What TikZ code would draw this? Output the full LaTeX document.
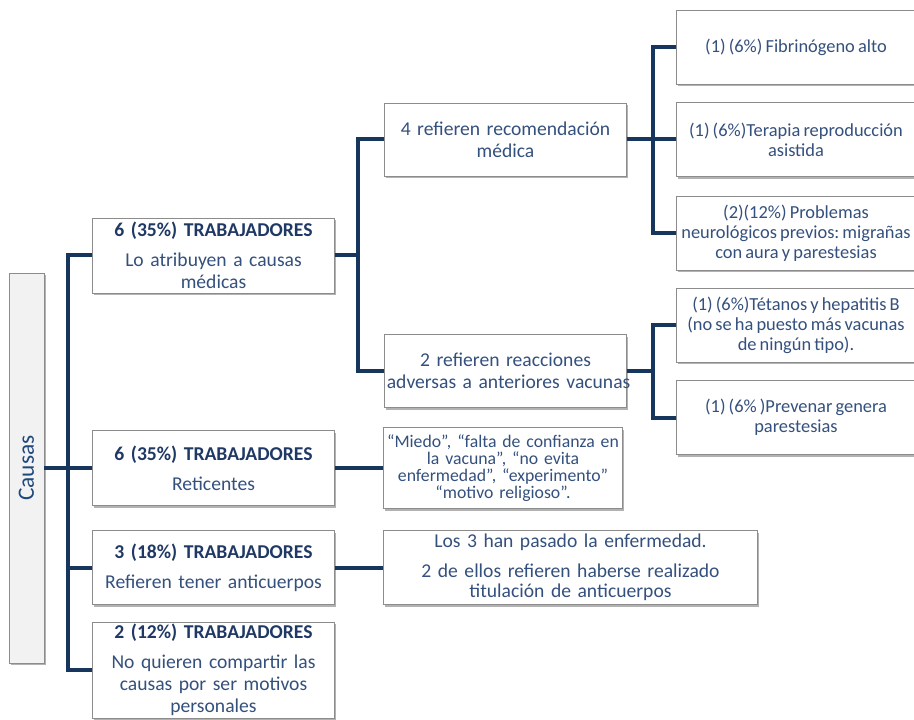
\documentclass[tikz,border=0pt]{standalone}
\usepackage{fontspec}
\setmainfont{Carlito}
\usetikzlibrary{shadows}
\definecolor{linkblue}{RGB}{23,54,93}
\definecolor{boxline}{RGB}{140,140,140}
\definecolor{titleblue}{RGB}{31,56,100}
\definecolor{bodyblue}{RGB}{52,80,125}
\definecolor{causasblue}{RGB}{31,73,125}
\definecolor{causasfill}{RGB}{242,242,242}
\newcommand{\grupo}[1]{\textbf{\color{titleblue}#1}}
\frenchspacing
\begin{document}
\begin{tikzpicture}[x=0.75pt,y=-0.75pt,
  box/.style={draw=boxline,fill=white,line width=0.6pt,align=center,inner xsep=2pt,inner ysep=1pt,
    text=bodyblue,font=\fontsize{14.7}{16.5}\selectfont,
    drop shadow={shadow xshift=1.2pt,shadow yshift=-1.8pt,fill=black,opacity=.3}},
  sidebox/.style={box,text width=177pt,inner xsep=1.5pt,minimum height=55.5pt,
    font=\fontsize{13.8}{15}\selectfont,execute at begin node={\spaceskip=.17em\xspaceskip=.17em\relax}},
  link/.style={draw=linkblue,line width=3pt}]
\useasboundingbox (0,0) rectangle (914,720);
\node[box,fill=causasfill,minimum width=26.25pt,minimum height=292.5pt,inner sep=0pt] (causas) at (26.5,468)
  {\rotatebox{90}{\fontsize{17.5}{18}\selectfont\color{causasblue}Causas}};
\node[box,text width=178pt,minimum height=56.25pt] (atrib) at (213.5,255.5)
  {\grupo{6 (35\%) TRABAJADORES}\\[6pt] Lo atribuyen a causas\\ médicas};
\node[box,text width=178pt,minimum height=56.25pt] (retic) at (213.5,468)
  {\grupo{6 (35\%) TRABAJADORES}\\[6pt] Reticentes};
\node[box,text width=178pt,minimum height=55.5pt] (antic) at (213.5,567.5)
  {\grupo{3 (18\%) TRABAJADORES}\\[6pt] Refieren tener anticuerpos};
\node[box,text width=178pt,minimum height=72pt] (perso) at (213.5,670)
  {\grupo{2 (12\%) TRABAJADORES}\\[6pt] No quieren compartir las\\ causas por ser motivos\\ personales};
\node[box,text width=178pt,minimum height=54.75pt] (recom) at (505.5,139.5)
  {4 refieren recomendación\\ médica};
\node[box,text width=178pt,minimum height=54.75pt] (react) at (505.5,371)
  {2 refieren reacciones\\ \mbox{adversas a anteriores vacunas}};
\node[box,text width=175pt,minimum height=60.75pt,font=\fontsize{13.3}{12.8}\selectfont] (miedo) at (503,468)
  {“Miedo”, “falta de confianza en\\ la vacuna”, “no evita\\ enfermedad”, “experimento”\\ “motivo religioso”.};
\node[box,text width=276pt,minimum height=55.5pt,font=\fontsize{14.7}{15}\selectfont] (los3) at (570.5,567.5)
  {Los 3 han pasado la enfermedad.\\[7.5pt] 2 de ellos refieren haberse realizado\\ titulación de anticuerpos};
\node[sidebox] (fibri) at (796,47) {(1) (6\%) Fibrinógeno alto};
\node[sidebox] (terap) at (796,139.5) {\mbox{(1) (6\%)Terapia reproducción}\\ asistida};
\node[sidebox] (neuro) at (796,233) {(2)(12\%) Problemas\\ \mbox{neurológicos previos: migrañas}\\ con aura y parestesias};
\node[sidebox] (tetan) at (796,325) {\mbox{(1) (6\%)Tétanos y hepatitis B}\\ \mbox{(no se ha puesto más vacunas}\\ de ningún tipo).};
\node[sidebox] (preve) at (796,417.5) {(1) (6\% )Prevenar genera\\ parestesias};
\coordinate (trunk) at (68,0);
\coordinate (split) at (358,0);
\coordinate (fork) at (653,0);
\draw[link] (atrib.west) -- (atrib.west -| trunk) |- (perso.west);
\draw[link] (causas.east) -- (retic.west);
\draw[link] (antic.west) -- (antic.west -| trunk);
\draw[link] (atrib.east) -- (atrib.east -| split);
\draw[link] (recom.west) -- (recom.west -| split) |- (react.west);
\draw[link] (recom.east) -- (terap.west);
\draw[link] (fibri.west) -- (fibri.west -| fork) |- (neuro.west);
\draw[link] (react.east) -- (react.east -| fork);
\draw[link] (tetan.west) -- (tetan.west -| fork) |- (preve.west);
\draw[link] (retic.east) -- (miedo.west);
\draw[link] (antic.east) -- (los3.west);
\end{tikzpicture}
\end{document}
